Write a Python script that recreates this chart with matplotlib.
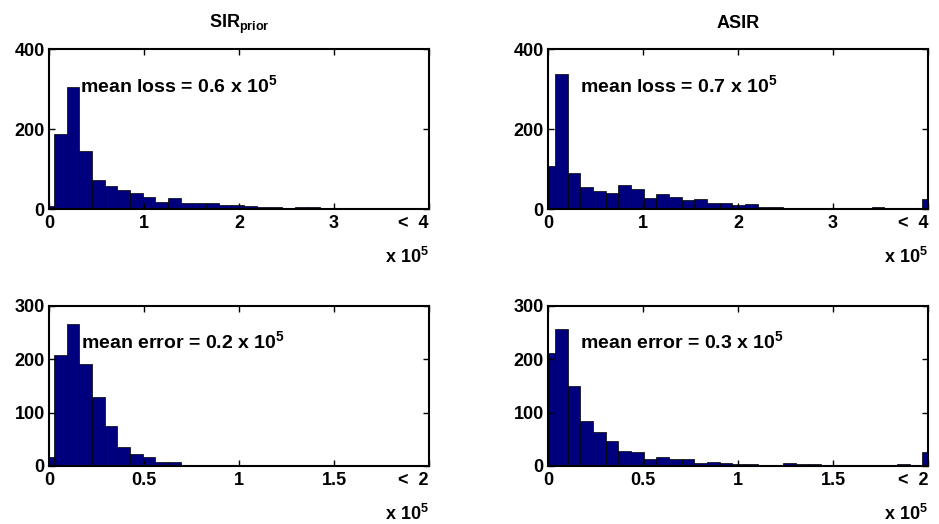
import matplotlib
matplotlib.use('Agg')
import matplotlib.pyplot as plt
import numpy as np

plt.rcParams['font.family'] = 'Liberation Sans'
plt.rcParams['font.weight'] = 'bold'
plt.rcParams['mathtext.fontset'] = 'custom'
plt.rcParams['mathtext.rm'] = 'Liberation Sans:bold'
plt.rcParams['mathtext.bf'] = 'Liberation Sans:bold'
plt.rcParams['mathtext.it'] = 'Liberation Sans:bold'

# histogram counts, 31 bins each (first and last bins clipped by the x limits)
loss_sir = [8, 188, 305, 146, 72, 57, 47, 39, 31, 18, 27, 14, 16, 16, 10, 9, 8, 4, 6, 3,
            4, 4, 2, 1, 1, 1, 0, 0, 0, 0, 1]
loss_asir = [107, 338, 91, 55, 45, 39, 61, 51, 28, 38, 31, 22, 25, 16, 16, 9, 12, 5, 5, 3,
             3, 2, 2, 1, 1, 1, 6, 1, 1, 1, 25]
err_sir = [16, 209, 267, 191, 130, 75, 36, 22, 17, 7, 7, 2, 1, 1, 1, 2, 1, 1, 1, 2,
           1, 1, 1, 1, 2, 1, 0, 0, 1, 1, 2]
err_asir = [211, 257, 150, 84, 64, 47, 28, 27, 14, 16, 14, 14, 6, 8, 6, 4, 3, 2, 2, 6,
            3, 3, 1, 1, 2, 1, 1, 1, 3, 1, 26]

# left edge of the second bin and bin width (units of 1e5)
loss_sir_bins = (0.0529, 4 / 30)
loss_asir_bins = (0.0735, 4 / 30)
err_sir_bins = (0.0264, 2 / 30)
err_asir_bins = (0.0367, 2 / 30)

titles = ['SIR$_{\\mathrm{prior}}$', 'ASIR']
loss_means = ['0.6', '0.7']
err_means = ['0.2', '0.3']

fs = 13

fig = plt.figure(figsize=(9.39, 5.24), dpi=100)

lefts = [49 / 939, 548 / 939]
bottoms = [1 - 209 / 524, 1 - 466 / 524]
w_ax = 380 / 939
h_ax = 160 / 524

panels = [
    (0, 0, loss_sir, loss_sir_bins, 4, [0, 200, 400], 'mean loss = %s x 10$^{5}$' % loss_means[0], 0.33, 293),
    (0, 1, loss_asir, loss_asir_bins, 4, [0, 200, 400], 'mean loss = %s x 10$^{5}$' % loss_means[1], 0.335, 293),
    (1, 0, err_sir, err_sir_bins, 2, [0, 100, 200, 300], 'mean error = %s x 10$^{5}$' % err_means[0], 0.168, 221),
    (1, 1, err_asir, err_asir_bins, 2, [0, 100, 200, 300], 'mean error = %s x 10$^{5}$' % err_means[1], 0.168, 221),
]

for r, c, counts, (start, bw), xmax, yt, txt, tx, ty in panels:
    ax = fig.add_axes([lefts[c], bottoms[r], w_ax, h_ax])
    edges = start + bw * (np.arange(len(counts)) - 1)
    ax.bar(edges, counts, width=bw, align='edge', color='#00007f',
           edgecolor='black', linewidth=0.5)
    ax.set_xlim(0, xmax)
    ax.set_ylim(0, yt[-1])
    ax.set_yticks(yt)
    if xmax == 4:
        xt = [0, 1, 2, 3, 4]
        xl = ['0', '1', '2', '3', '<  4']
    else:
        xt = [0, 0.5, 1, 1.5, 2]
        xl = ['0', '0.5', '1', '1.5', '<  2']
    ax.set_xticks(xt)
    labs = ax.set_xticklabels(xl)
    labs[-1].set_horizontalalignment('right')
    ax.tick_params(direction='in', top=True, right=True, length=4, width=1,
                   labelsize=fs)
    ax.tick_params(axis='x', pad=4)
    ax.tick_params(axis='y', pad=3)
    for sp in ax.spines.values():
        sp.set_linewidth(1.5)
    ax.text(tx, ty, txt, fontsize=fs + 1, fontweight='bold', va='baseline', ha='left')
    ax.text(1.0, -0.335, 'x 10$^{5}$', transform=ax.transAxes, fontsize=fs,
            fontweight='bold', ha='right', va='baseline')
    if r == 0:
        ax.set_title(titles[c], fontsize=fs, fontweight='bold', pad=15)

fig.savefig('out.png', dpi=100)
